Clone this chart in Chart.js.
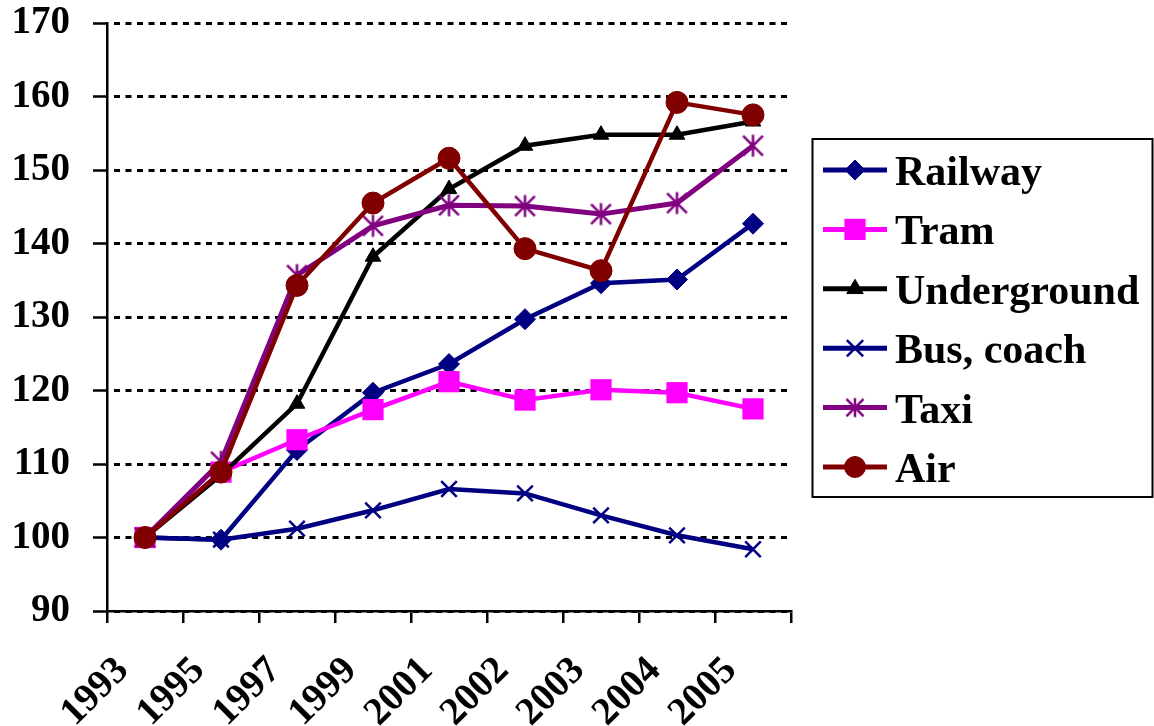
<!DOCTYPE html>
<html>
<head>
<meta charset="utf-8">
<script src="https://cdn.jsdelivr.net/npm/chart.js@4.4.1/dist/chart.umd.min.js"></script>
<style>
  html, body { margin: 0; padding: 0; background: #ffffff; }
  #wrap { width: 1154px; height: 726px; }
</style>
</head>
<body>
<div id="wrap"><canvas id="c" width="1154" height="726"></canvas></div>
<script>
// Passenger transport index (1993 = 100)
const years       = ['1993', '1995', '1997', '1999', '2001', '2002', '2003', '2004', '2005'];
const railway     = [100, 99.7, 111.9, 119.7, 123.6, 129.7, 134.6, 135.1, 142.7];
const tram        = [100, 108.9, 113.3, 117.4, 121.2, 118.7, 120.1, 119.7, 117.5];
const underground = [100, 108.5, 118.2, 138.2, 147.4, 153.3, 154.8, 154.8, 156.6];
const busCoach    = [100, 99.7, 101.2, 103.7, 106.6, 106.0, 103.0, 100.3, 98.4];
const taxi        = [100, 110.3, 135.7, 142.4, 145.2, 145.1, 144.0, 145.5, 153.3];
const air         = [100, 108.9, 134.3, 145.5, 151.6, 139.3, 136.3, 159.2, 157.5];
const yMin = 90, yMax = 170, yStep = 10;

const FONT = '"Liberation Serif", "Times New Roman", serif';

// Asterisk marker: an X with a vertical bar through it
function asteriskMarker(color, half, lw) {
  const s = Math.ceil(half * 2 + lw + 4);
  const c = document.createElement('canvas');
  c.width = s; c.height = s;
  const g = c.getContext('2d');
  g.strokeStyle = color; g.lineWidth = lw;
  const m = s / 2, d = half * 0.9;
  g.beginPath();
  g.moveTo(m - d, m - d); g.lineTo(m + d, m + d);
  g.moveTo(m + d, m - d); g.lineTo(m - d, m + d);
  g.moveTo(m, m - half); g.lineTo(m, m + half);
  g.stroke();
  return c;
}

const NAVY = '#000080', MAGENTA = '#ff00ff', BLACK = '#000000', PURPLE = '#800080', MAROON = '#800000';

function series(label, data, color, lineW, style, radius, markBorder, legendStyle, legendRadius) {
  return {
    label, data,
    borderColor: color,
    backgroundColor: color,
    borderWidth: lineW,
    tension: 0,
    pointStyle: style,
    pointRadius: radius,
    pointHoverRadius: radius,
    pointBackgroundColor: color,
    pointBorderColor: color,
    pointBorderWidth: markBorder,
    legendMarker: { style: legendStyle, radius: legendRadius, borderWidth: markBorder }
  };
}

const datasets = [
  series('Railway',     railway,     NAVY,    4.5, 'rectRot',  10.5, 1,   'rectRot', 10),
  series('Tram',        tram,        MAGENTA, 4.5, 'rect',     15,   0,   'rect', 15),
  series('Underground', underground, BLACK,   4.5, 'triangle', 9,    1,   'triangle', 9.5),
  series('Bus, coach',  busCoach,    NAVY,    4.5, 'crossRot', 11,   2.5, 'crossRot', 11.5),
  series('Taxi',        taxi,        PURPLE,  5,   asteriskMarker(PURPLE, 11, 2.5), 11, 2.5, asteriskMarker(PURPLE, 9.5, 2.5), 10),
  series('Air',         air,         MAROON,  4.5, 'circle',   11,   1,   'circle', 10.5)
];
// later series are painted above earlier ones
datasets.forEach((d, i) => { d.order = datasets.length - i; });

// Framed legend: line sample with marker, then the series name
const framedLegend = {
  id: 'framedLegend',
  afterDraw(chart) {
    const ctx = chart.ctx;
    ctx.save();
    ctx.lineWidth = 2;
    ctx.strokeStyle = '#000';
    ctx.strokeRect(812.5, 139, 340, 358);
    const firstRow = 170, rowH = 59.4;
    chart.data.datasets.forEach((ds, i) => {
      const y = firstRow + i * rowH;
      ctx.strokeStyle = ds.borderColor;
      ctx.lineWidth = 5;
      ctx.beginPath();
      ctx.moveTo(823, y); ctx.lineTo(887, y);
      ctx.stroke();
      ctx.fillStyle = ds.pointBackgroundColor;
      ctx.strokeStyle = ds.pointBorderColor;
      ctx.lineWidth = ds.legendMarker.borderWidth || 1;
      Chart.helpers.drawPoint(ctx, {
        pointStyle: ds.legendMarker.style,
        radius: ds.legendMarker.radius,
        rotation: 0,
        borderWidth: ds.legendMarker.borderWidth
      }, 855, y);
      ctx.fillStyle = '#000';
      ctx.font = 'bold 42px ' + FONT;
      ctx.textAlign = 'left';
      ctx.textBaseline = 'alphabetic';
      ctx.fillText(ds.label, 895, y + 15);
    });
    ctx.restore();
  }
};

const tickFont = { family: FONT, weight: 'bold', size: 39 };

new Chart(document.getElementById('c'), {
  type: 'line',
  data: { labels: years, datasets },
  plugins: [framedLegend],
  options: {
    responsive: false,
    animation: false,
    devicePixelRatio: 1,
    layout: { padding: { top: 23, right: 363, left: 0, bottom: 0 } },
    plugins: { legend: { display: false }, tooltip: { enabled: false } },
    scales: {
      x: {
        type: 'category',
        offset: true,
        grid: {
          display: true, drawOnChartArea: false, offset: true,
          tickLength: 12, color: '#000', lineWidth: 2.5, tickWidth: 2.5, tickColor: '#000'
        },
        border: { display: true, color: '#000', width: 2.5 },
        ticks: {
          autoSkip: false, minRotation: 45, maxRotation: 45,
          labelOffset: -22, padding: 25,
          color: '#000', font: tickFont
        },
        afterFit(scale) {
          scale.height = 115;
          scale.paddingLeft = 0; scale.paddingRight = 0;
        }
      },
      y: {
        min: yMin, max: yMax,
        ticks: { stepSize: yStep, padding: 23, color: '#000', font: tickFont },
        grid: {
          color: '#000', lineWidth: 3,
          tickLength: 14, tickWidth: 2.5, tickColor: '#000', tickBorderDash: []
        },
        border: { display: true, color: '#000', width: 2.5, dash: [6, 5.5], dashOffset: 6 },
        afterFit(scale) {
          scale.width = 107;
          scale.paddingTop = 0; scale.paddingBottom = 0;
        }
      }
    }
  }
});
</script>
</body>
</html>
